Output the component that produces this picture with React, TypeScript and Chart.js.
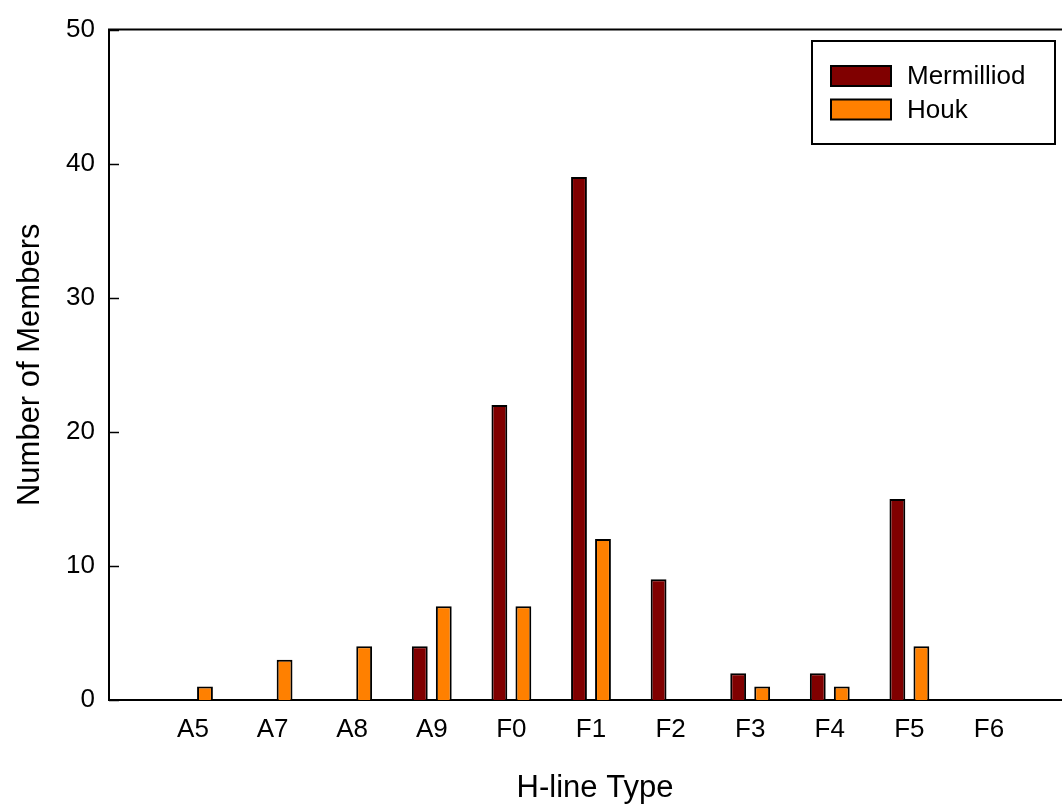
import React, { useEffect, useRef } from 'react';
import { Chart, registerables } from 'chart.js';

Chart.register(...registerables);

// H-line spectral types along the x axis
const hLineTypes = ['A5', 'A7', 'A8', 'A9', 'F0', 'F1', 'F2', 'F3', 'F4', 'F5', 'F6'];
// Number of members per type, by source catalogue
const mermilliodCounts = [0, 0, 0, 4, 22, 39, 9, 2, 2, 15, 0];
const houkCounts = [1, 3, 4, 7, 7, 12, 0, 1, 1, 4, 0];
const seriesNames = ['Mermilliod', 'Houk'];
const seriesColors = ['#800000', '#ff8000'];
const yTickValues = [0, 10, 20, 30, 40, 50];

const FONT = '"Liberation Sans", Arial, Helvetica, sans-serif';

const toPoints = (counts: number[]) =>
  counts.map((c, i) => ({ x: i + 1, y: c === 0 ? null : c }));

// Top frame line, inward y ticks and the boxed legend
const framePlugin = {
  id: 'frameAndLegend',
  afterDraw(chart: any) {
    const { ctx, chartArea } = chart;
    const yScale = chart.scales.y;
    ctx.save();
    ctx.strokeStyle = '#000';
    ctx.lineWidth = 2;
    ctx.beginPath();
    ctx.moveTo(chartArea.left - 1, chartArea.top);
    ctx.lineTo(chartArea.right, chartArea.top);
    ctx.stroke();

    ctx.lineWidth = 1.5;
    yTickValues.forEach((v) => {
      const py = Math.round(yScale.getPixelForValue(v)) + 0.5;
      ctx.beginPath();
      ctx.moveTo(chartArea.left, py);
      ctx.lineTo(chartArea.left + 10, py);
      ctx.stroke();
    });

    // legend box
    const bx = 812, by = 41, bw = 243, bh = 103;
    ctx.fillStyle = '#fff';
    ctx.fillRect(bx, by, bw, bh);
    ctx.lineWidth = 2;
    ctx.strokeRect(bx, by, bw, bh);
    ctx.font = `26px ${FONT}`;
    ctx.textBaseline = 'middle';
    ctx.textAlign = 'left';
    chart.data.datasets.forEach((ds: any, i: number) => {
      const sy = by + 25 + i * 33.5;
      ctx.fillStyle = ds.backgroundColor;
      ctx.fillRect(bx + 19, sy, 60, 20);
      ctx.lineWidth = 2;
      ctx.strokeStyle = '#000';
      ctx.strokeRect(bx + 19, sy, 60, 20);
      ctx.fillStyle = '#000';
      ctx.fillText(ds.label, bx + 95, sy + 11);
    });
    ctx.restore();
  },
};

export default function App() {
  const canvasRef = useRef<HTMLCanvasElement | null>(null);

  useEffect(() => {
    if (!canvasRef.current) return;
    const chart = new Chart(canvasRef.current, {
      type: 'bar',
      data: {
        datasets: [
          {
            label: seriesNames[0],
            data: toPoints(mermilliodCounts) as any,
            backgroundColor: seriesColors[0],
            borderColor: '#000',
            borderWidth: 2,
            categoryPercentage: 0.603,
            barPercentage: 0.66,
          },
          {
            label: seriesNames[1],
            data: toPoints(houkCounts) as any,
            backgroundColor: seriesColors[1],
            borderColor: '#000',
            borderWidth: 2,
            categoryPercentage: 0.603,
            barPercentage: 0.66,
          },
        ],
      },
      options: {
        animation: false,
        responsive: false,
        devicePixelRatio: 1,
        layout: { padding: { top: 25, right: 9, left: 0, bottom: 0 } },
        plugins: {
          legend: { display: false },
          tooltip: { enabled: false },
        },
        scales: {
          x: {
            type: 'linear',
            offset: false,
            min: -0.055,
            max: 12.156,
            afterBuildTicks: (scale: any) => {
              scale.ticks = hLineTypes.map((_, i) => ({ value: i + 1 }));
            },
            afterFit: (scale: any) => {
              scale.height = 110;
            },
            ticks: {
              autoSkip: false,
              maxRotation: 0,
              padding: 14,
              color: '#000',
              font: { family: FONT, size: 26 },
              callback: (v: any) => hLineTypes[Number(v) - 1] ?? '',
            },
            grid: { display: false, drawTicks: false, offset: false },
            border: { display: true, color: '#000', width: 2 },
            title: {
              display: true,
              text: 'H-line Type',
              color: '#000',
              font: { family: FONT, size: 31 },
              padding: { top: 0, bottom: 3 },
            },
          },
          y: {
            type: 'linear',
            min: 0,
            max: 50,
            afterBuildTicks: (scale: any) => {
              scale.ticks = yTickValues.map((v) => ({ value: v }));
            },
            afterFit: (scale: any) => {
              scale.width = 109;
            },
            ticks: {
              padding: 14,
              color: '#000',
              font: { family: FONT, size: 26 },
            },
            grid: { display: false, drawTicks: false },
            border: { display: true, color: '#000', width: 2 },
            title: {
              display: true,
              text: 'Number of Members',
              color: '#000',
              font: { family: FONT, size: 31 },
              padding: { top: 12, bottom: 0 },
            },
          },
        },
      },
      plugins: [framePlugin],
    });
    return () => chart.destroy();
  }, []);

  return (
    <div
      style={{
        position: 'fixed',
        left: 0,
        top: 0,
        width: 1062,
        height: 810,
        overflow: 'hidden',
        background: '#fff',
      }}
    >
      <canvas ref={canvasRef} width={1090} height={810} style={{ display: 'block' }} />
    </div>
  );
}
